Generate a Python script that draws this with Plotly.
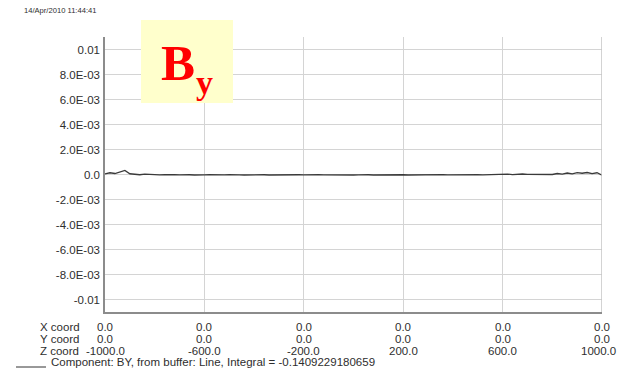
import plotly.graph_objects as go

# Field scan along Z, component BY (Tesla)
z_pos = [-1000 + 20 * i for i in range(101)]
by_values = [
    0.00005, 0.00014, 0.00008, 0.00020, 0.00032, 0.00006, 0.00002, -0.00002, 0.00003, -0.00001,
    0.00000, -0.00003, -0.00001, -0.00004, -0.00002, -0.00003, 0.00000, -0.00002, -0.00004, -0.00001,
    -0.00003, -0.00002, -0.00004, -0.00001, -0.00003, -0.00002, 0.00000, -0.00003, -0.00004, -0.00002,
    -0.00001, -0.00003, -0.00002, -0.00004, -0.00003, -0.00001, -0.00002, -0.00004, -0.00003, -0.00002,
    -0.00003, -0.00001, -0.00004, -0.00002, -0.00003, -0.00004, -0.00002, -0.00001, -0.00003, -0.00002,
    -0.00004, -0.00003, -0.00001, -0.00002, -0.00004, -0.00003, -0.00002, -0.00004, -0.00001, -0.00003,
    -0.00002, -0.00004, -0.00003, -0.00001, -0.00003, -0.00002, -0.00004, -0.00002, -0.00001, -0.00003,
    -0.00002, -0.00001, -0.00003, -0.00002, 0.00000, -0.00002, -0.00003, -0.00001, 0.00001, -0.00002,
    0.00000, 0.00003, -0.00001, 0.00002, 0.00004, 0.00001, 0.00000, 0.00001, 0.00000, 0.00002,
    0.00000, 0.00008, 0.00003, 0.00012, 0.00005, 0.00015, 0.00010, 0.00016, 0.00007, 0.00014,
    -0.00005,
]

y_ticks = [0.01, 0.008, 0.006, 0.004, 0.002, 0.0, -0.002, -0.004, -0.006, -0.008, -0.01]
y_tick_text = ["0.01", "8.0E-03", "6.0E-03", "4.0E-03", "2.0E-03", "0.0",
               "-2.0E-03", "-4.0E-03", "-6.0E-03", "-8.0E-03", "-0.01"]

x_ticks = [-1000, -600, -200, 200, 600, 1000]
x_coord = ["0.0", "0.0", "0.0", "0.0", "0.0", "0.0"]
y_coord = ["0.0", "0.0", "0.0", "0.0", "0.0", "0.0"]
z_coord = ["-1000.0", "-600.0", "-200.0", "200.0", "600.0", "1000.0"]

timestamp = "14/Apr/2010 11:44:41"
legend_text = "Component: BY, from buffer: Line, Integral = -0.1409229180659"

FONT = "Liberation Sans, Arial, sans-serif"
TXT = "#2e2e2e"

fig = go.Figure()
fig.add_trace(go.Scatter(
    x=z_pos, y=by_values, mode="lines",
    line=dict(color="#3a3a3a", width=1.3),
    showlegend=False, hoverinfo="skip",
))

fig.update_layout(
    width=618, height=370,
    margin=dict(l=105, r=16, t=37, b=58),
    paper_bgcolor="white", plot_bgcolor="white",
    xaxis=dict(
        range=[-1000, 1000], tickvals=x_ticks, showticklabels=False,
        showgrid=True, gridcolor="#d4d4d4", gridwidth=1,
        zeroline=False, showline=True, linecolor="#8c8c8c", linewidth=1.5,
        ticks="", fixedrange=True,
    ),
    yaxis=dict(
        range=[-0.011, 0.011], tickvals=y_ticks, ticktext=y_tick_text,
        showgrid=True, gridcolor="#d4d4d4", gridwidth=1,
        zeroline=False, showline=True, linecolor="#8c8c8c", linewidth=1.5,
        ticks="", ticklabelstandoff=1,
        tickfont=dict(family=FONT, size=11.5, color=TXT),
    ),
    font=dict(family=FONT, color=TXT),
)

# right border of the plot frame
fig.add_shape(type="line", xref="x", yref="paper", x0=1000, x1=1000, y0=0, y1=1,
              line=dict(color="#c4c4c4", width=1.5))

# timestamp
fig.add_annotation(text=timestamp, xref="paper", yref="paper", x=0, y=1,
                   xshift=-83, yshift=27, xanchor="left", yanchor="middle",
                   showarrow=False, font=dict(family=FONT, size=7.6, color=TXT))

# "By" label box
fig.add_shape(type="rect", xref="paper", yref="paper",
              x0=(141 - 105) / 497, x1=(233 - 105) / 497,
              y0=(312 - 103) / 275, y1=(312 - 20) / 275,
              fillcolor="#ffffcc", line=dict(width=0), layer="above")
fig.add_annotation(text="<b>B</b>", xref="paper", yref="paper",
                   x=(178 - 105) / 497, y=(312 - 63) / 275,
                   xanchor="center", yanchor="middle", showarrow=False,
                   font=dict(family="Liberation Serif, Times New Roman, serif", size=51, color="#ff0000"))
fig.add_annotation(text="<b>y</b>", xref="paper", yref="paper",
                   x=(204 - 105) / 497, y=(312 - 82) / 275,
                   xanchor="center", yanchor="middle", showarrow=False,
                   font=dict(family="Liberation Serif, Times New Roman, serif", size=34, color="#ff0000"))

# coordinate table under the axis
rows = [("X coord", x_coord, 326.5), ("Y coord", y_coord, 338.5), ("Z coord", z_coord, 350.5)]
for label, vals, ypix in rows:
    yp = (312 - ypix) / 275
    fig.add_annotation(text=label, xref="paper", yref="paper", x=(38 - 105) / 497, y=yp,
                       xanchor="left", yanchor="middle", showarrow=False,
                       font=dict(family=FONT, size=11.5, color=TXT))
    for i, (xv, v) in enumerate(zip(x_ticks, vals)):
        # keep the widest label of the last column inside the page
        edge = i == len(x_ticks) - 1 and len(v) > 4
        fig.add_annotation(text=v, xref="x", yref="paper", x=xv, y=yp,
                           xanchor="right" if edge else "center",
                           xshift=16 if edge else 0,
                           yanchor="middle", showarrow=False,
                           font=dict(family=FONT, size=11.5, color=TXT))

# legend line and caption
leg_y = (312 - 362) / 275
fig.add_shape(type="line", xref="paper", yref="paper",
              x0=(16 - 105) / 497, x1=(46 - 105) / 497,
              y0=(312 - 367) / 275, y1=(312 - 367) / 275,
              line=dict(color="#333333", width=1))
fig.add_annotation(text=legend_text, xref="paper", yref="paper", x=(49 - 105) / 497, y=leg_y,
                   xanchor="left", yanchor="middle", showarrow=False,
                   font=dict(family=FONT, size=11.5, color=TXT))

fig.write_html("out.html")
